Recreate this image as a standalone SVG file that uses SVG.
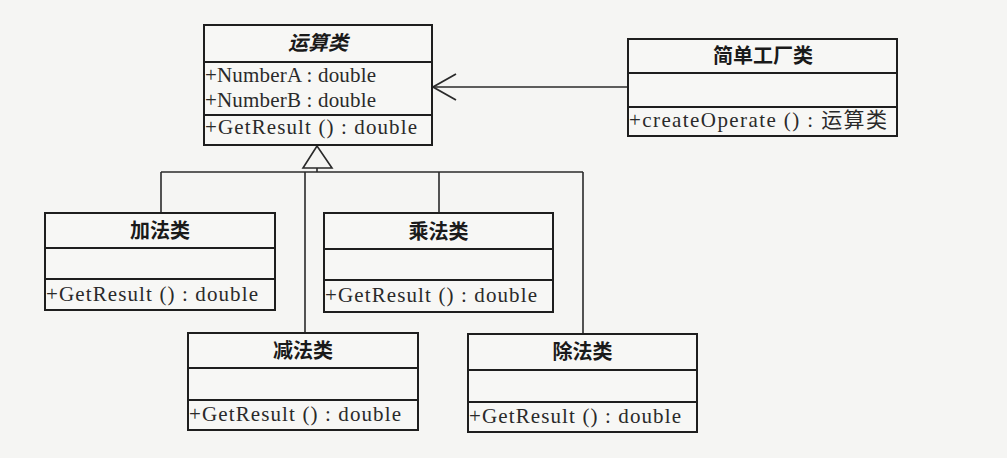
<svg xmlns="http://www.w3.org/2000/svg" width="1007" height="458" viewBox="0 0 1007 458">
  <style>
    .box { fill: #f7f7f5; stroke: #1e1e1e; stroke-width: 2; }
    .div { stroke: #1e1e1e; stroke-width: 2; }
    .title { font-family: "Noto Sans CJK SC", "Noto Sans", sans-serif; font-size: 20px; font-weight: bold; fill: #1a1a1a; text-anchor: middle; }
    .member { font-family: "Liberation Serif", "Noto Sans CJK SC", serif; font-size: 21px; fill: #2a2a2a; }
    .conn { fill: none; stroke: #2a2a2a; stroke-width: 1.6; }
  </style>
  <defs>
    <marker id="open" markerUnits="userSpaceOnUse" markerWidth="30" markerHeight="30" refX="0" refY="0" orient="auto" viewBox="-26 -15 30 30" overflow="visible">
      <path d="M -23 -13 L 0 0 L -23 13" fill="none" stroke="#2a2a2a" stroke-width="1.8"/>
    </marker>
  </defs>
  <rect width="1007" height="458" fill="#f5f5f3"/>

  <g id="connectors">
    <line class="conn" x1="628" y1="87" x2="433" y2="87" marker-end="url(#open)"/>
    <polygon class="conn" points="317,146 303,168 332,168"/>
    <line class="conn" x1="317" y1="168" x2="317" y2="172"/>
    <line class="conn" x1="161" y1="172" x2="583" y2="172"/>
    <line class="conn" x1="161" y1="172" x2="161" y2="213"/>
    <line class="conn" x1="305" y1="172" x2="305" y2="333"/>
    <line class="conn" x1="439" y1="172" x2="439" y2="213"/>
    <line class="conn" x1="583" y1="172" x2="583" y2="334"/>
  </g>

  <g id="operation">
    <rect class="box" x="204" y="25" width="228" height="120"/>
    <line class="div" x1="204" y1="62" x2="432" y2="62"/>
    <line class="div" x1="204" y1="115" x2="432" y2="115"/>
    <text class="title" x="318" y="50" font-style="italic">运算类</text>
    <text class="member" x="205" y="82" textLength="171">+NumberA : double</text>
    <text class="member" x="205" y="107" textLength="171">+NumberB : double</text>
    <text class="member" x="205" y="134" textLength="212">+GetResult () : double</text>
  </g>

  <g id="factory">
    <rect class="box" x="628" y="39" width="269" height="97"/>
    <line class="div" x1="628" y1="73" x2="897" y2="73"/>
    <line class="div" x1="628" y1="107" x2="897" y2="107"/>
    <text class="title" x="763" y="63">简单工厂类</text>
    <text class="member" x="629" y="127" textLength="258">+createOperate () : 运算类</text>
  </g>

  <g id="add">
    <rect class="box" x="45" y="213" width="230" height="97"/>
    <line class="div" x1="45" y1="248" x2="275" y2="248"/>
    <line class="div" x1="45" y1="279" x2="275" y2="279"/>
    <text class="title" x="160" y="238">加法类</text>
    <text class="member" x="46" y="301" textLength="212">+GetResult () : double</text>
  </g>

  <g id="mul">
    <rect class="box" x="324" y="213" width="229" height="99"/>
    <line class="div" x1="324" y1="249" x2="553" y2="249"/>
    <line class="div" x1="324" y1="280" x2="553" y2="280"/>
    <text class="title" x="438.5" y="239">乘法类</text>
    <text class="member" x="325" y="302" textLength="212">+GetResult () : double</text>
  </g>

  <g id="sub">
    <rect class="box" x="188" y="333" width="230" height="97"/>
    <line class="div" x1="188" y1="368" x2="418" y2="368"/>
    <line class="div" x1="188" y1="400" x2="418" y2="400"/>
    <text class="title" x="303" y="358">减法类</text>
    <text class="member" x="189" y="421" textLength="212">+GetResult () : double</text>
  </g>

  <g id="div">
    <rect class="box" x="468" y="334" width="229" height="98"/>
    <line class="div" x1="468" y1="370" x2="697" y2="370"/>
    <line class="div" x1="468" y1="402" x2="697" y2="402"/>
    <text class="title" x="582.5" y="359">除法类</text>
    <text class="member" x="469" y="423" textLength="212">+GetResult () : double</text>
  </g>
</svg>
